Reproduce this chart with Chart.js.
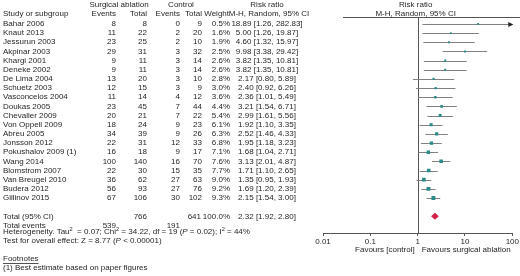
<!DOCTYPE html>
<html>
<head>
<meta charset="utf-8">
<script src="https://cdn.jsdelivr.net/npm/chart.js@4.4.0/dist/chart.umd.min.js"></script>
<style>
  html, body { margin: 0; padding: 0; background: #fff; }
  #wrap { width: 520px; height: 276px; position: relative; }
</style>
</head>
<body>
<div id="wrap"><canvas id="forestChart"></canvas></div>
<script>
const studies = ['Bahar 2006', 'Knaut 2013', 'Jessurun 2003', 'Akpinar 2003', 'Khargi 2001', 'Deneke 2002',
  'De Lima 2004', 'Schuetz 2003', 'Vasconcelos 2004', 'Doukas 2005', 'Chevalier 2009', 'Von Oppell 2009',
  'Abreu 2005', 'Jonsson 2012', 'Pokushalov 2009 (1)', 'Wang 2014', 'Blomstrom 2007', 'Van Breugel 2010',
  'Budera 2012', 'Gillinov 2015'];
const expEvents = [8, 11, 23, 29, 9, 9, 13, 12, 11, 23, 20, 18, 34, 22, 16, 100, 22, 36, 56, 67];
const expTotal = [8, 22, 25, 31, 11, 11, 20, 15, 14, 45, 21, 24, 39, 31, 18, 140, 30, 62, 93, 106];
const ctrlEvents = [0, 2, 2, 3, 3, 3, 3, 3, 4, 7, 7, 9, 9, 12, 9, 16, 15, 27, 27, 30];
const ctrlTotal = [9, 20, 10, 32, 14, 14, 10, 9, 12, 44, 22, 23, 26, 33, 17, 70, 35, 63, 76, 102];
const weights = [0.5, 1.6, 1.9, 2.5, 2.6, 2.6, 2.8, 3.0, 3.6, 4.4, 5.4, 6.1, 6.3, 6.8, 7.1, 7.6, 7.7, 9.0, 9.2, 9.3];
const riskRatio = [18.89, 5.00, 4.60, 9.98, 3.82, 3.82, 2.17, 2.40, 2.36, 3.21, 2.99, 1.92, 2.52, 1.95, 1.68, 3.13, 1.71, 1.35, 1.69, 2.15];
const ciLow = [1.26, 1.26, 1.32, 3.38, 1.35, 1.35, 0.80, 0.92, 1.01, 1.54, 1.61, 1.10, 1.46, 1.18, 1.04, 2.01, 1.10, 0.95, 1.20, 1.54];
const ciHigh = [282.83, 19.87, 15.97, 29.42, 10.81, 10.81, 5.89, 6.26, 5.49, 6.71, 5.56, 3.35, 4.33, 3.23, 2.71, 4.87, 2.65, 1.93, 2.39, 3.00];

const totalExp = 766, totalCtrl = 641, totalWeight = '100.0%';
const totalEventsExp = 539, totalEventsCtrl = 191;
const totalRR = 2.32, totalLow = 1.92, totalHigh = 2.80;

const tickValues = [0.01, 0.1, 1, 10, 100];
const tickLabels = ['0.01', '0.1', '1', '10', '100'];

const FONT = '"Liberation Sans", Arial, sans-serif';
const FS = 8;
const TXT = '#262626';

// column anchors
const COL = { study: 3, expEv: 116, expTot: 147, ctlEv: 180, ctlTot: 202, weight: 230, rr: 267 };

function fmt2(v) { return v.toFixed(2); }

function drawRich(ctx, parts, x, y) {
  // parts: [text, style] ; style: n normal, i italic, s superscript
  let cx = x;
  parts.forEach(([t, st]) => {
    if (st === 's') {
      ctx.font = (FS * 0.7) + 'px ' + FONT;
      ctx.fillText(t, cx, y - 3);
    } else {
      ctx.font = (st === 'i' ? 'italic ' : '') + FS + 'px ' + FONT;
      ctx.fillText(t, cx, y);
    }
    cx += ctx.measureText(t).width;
  });
}

const forestPlugin = {
  id: 'forest',
  beforeDatasetsDraw(chart) {
    const ctx = chart.ctx;
    const xs = chart.scales.x, ys = chart.scales.y;
    const area = chart.chartArea;
    ctx.save();
    // no-effect line
    ctx.strokeStyle = '#555';
    ctx.lineWidth = 1;
    const x1 = Math.round(xs.getPixelForValue(1)) + 0.5;
    ctx.beginPath();
    ctx.moveTo(x1, area.top);
    ctx.lineTo(x1, area.bottom);
    ctx.stroke();
    // header rule
    ctx.beginPath();
    ctx.moveTo(343, area.top + 0.5);
    ctx.lineTo(520, area.top + 0.5);
    ctx.stroke();
    // confidence intervals
    ctx.strokeStyle = '#808080';
    studies.forEach((s, i) => {
      const y = Math.round(ys.getPixelForValue(i)) + 0.5;
      const xl = xs.getPixelForValue(Math.max(ciLow[i], xs.min));
      const clipped = ciHigh[i] > xs.max;
      const xr = xs.getPixelForValue(Math.min(ciHigh[i], xs.max));
      ctx.beginPath();
      ctx.moveTo(xl, y);
      ctx.lineTo(xr, y);
      ctx.stroke();
      if (clipped) {
        ctx.fillStyle = '#222';
        ctx.beginPath();
        ctx.moveTo(xr + 1, y);
        ctx.lineTo(xr - 4, y - 2.5);
        ctx.lineTo(xr - 4, y + 2.5);
        ctx.closePath();
        ctx.fill();
      }
    });
    ctx.restore();
  },
  afterDraw(chart) {
    const ctx = chart.ctx;
    const xs = chart.scales.x, ys = chart.scales.y;
    ctx.save();
    // pooled diamond
    const yt = ys.getPixelForValue(21);
    ctx.fillStyle = '#d3204a';
    ctx.beginPath();
    ctx.moveTo(xs.getPixelForValue(totalLow), yt);
    ctx.lineTo(xs.getPixelForValue(totalRR), yt - 3.5);
    ctx.lineTo(xs.getPixelForValue(totalHigh), yt);
    ctx.lineTo(xs.getPixelForValue(totalRR), yt + 3.5);
    ctx.closePath();
    ctx.fill();

    ctx.fillStyle = TXT;
    ctx.textBaseline = 'middle';
    ctx.font = FS + 'px ' + FONT;
    const put = (t, x, y, align) => { ctx.textAlign = align; ctx.fillText(String(t), x, y); };

    // headers
    put('Surgical ablation', 119, 5, 'center');
    put('Control', 181, 5, 'center');
    put('Risk ratio', COL.rr, 5, 'center');
    put('Study or subgroup', COL.study, 14, 'left');
    put('Events', COL.expEv, 14, 'right');
    put('Total', COL.expTot, 14, 'right');
    put('Events', COL.ctlEv, 14, 'right');
    put('Total', COL.ctlTot, 14, 'right');
    put('Weight', COL.weight - 1, 14, 'right');
    put('M-H, Random, 95% CI', COL.rr + 2, 14, 'center');
    const xc = xs.getPixelForValue(1);
    put('Risk ratio', xc - 2, 5, 'center');
    put('M-H, Random, 95% CI', xc - 2, 14, 'center');

    // rows
    studies.forEach((s, i) => {
      const y = ys.getPixelForValue(i);
      put(s, COL.study, y, 'left');
      put(expEvents[i], COL.expEv, y, 'right');
      put(expTotal[i], COL.expTot, y, 'right');
      put(ctrlEvents[i], COL.ctlEv, y, 'right');
      put(ctrlTotal[i], COL.ctlTot, y, 'right');
      put(weights[i].toFixed(1) + '%', COL.weight, y, 'right');
      put(fmt2(riskRatio[i]) + ' [' + fmt2(ciLow[i]) + ', ' + fmt2(ciHigh[i]) + ']', COL.rr, y, 'center');
    });

    // totals
    put('Total (95% CI)', COL.study, yt, 'left');
    put(totalExp, COL.expTot, yt, 'right');
    put(totalCtrl, COL.ctlTot - 1, yt, 'right');
    put(totalWeight, COL.weight, yt, 'right');
    put(fmt2(totalRR) + ' [' + fmt2(totalLow) + ', ' + fmt2(totalHigh) + ']', COL.rr, yt, 'center');
    const ye = ys.getPixelForValue(22);
    put('Total events', COL.study, ye, 'left');
    put(totalEventsExp, COL.expEv, ye, 'right');
    put(totalEventsCtrl, COL.ctlEv, ye, 'right');

    ctx.textAlign = 'left';
    drawRich(ctx, [['Heterogeneity. Tau', 'n'], ['2', 's'], ['  = 0.07; Chi', 'n'], ['2', 's'],
      [' = 34.22, df = 19 (', 'n'], ['P', 'i'], [' = 0.02); I', 'n'], ['2', 's'], [' = 44%', 'n']], 3, 232);
    drawRich(ctx, [['Test for overall effect: Z = 8.77 (', 'n'], ['P', 'i'], [' < 0.00001)', 'n']], 3, 241);

    ctx.font = FS + 'px ' + FONT;
    put('Footnotes', 3, 259, 'left');
    const fw = ctx.measureText('Footnotes').width;
    ctx.strokeStyle = TXT;
    ctx.lineWidth = 0.8;
    ctx.beginPath();
    ctx.moveTo(3, 263.5);
    ctx.lineTo(3 + fw, 263.5);
    ctx.stroke();
    put('(1) Best estimate based on paper figures', 3, 268, 'left');

    // favours labels
    put('Favours [control]', xc - 3, 250, 'right');
    put('Favours surgical ablation', xc + 4, 250, 'left');
    ctx.restore();
  }
};

function initializeChart() {
  const ctx = document.getElementById('forestChart').getContext('2d');
  const radius = weights.map(w => Math.max(1.3, 0.9 * Math.sqrt(w)));
  new Chart(ctx, {
    type: 'scatter',
    data: {
      datasets: [{
        label: 'Risk ratio',
        data: studies.map((s, i) => ({ x: riskRatio[i], y: i })),
        pointStyle: 'rect',
        pointRadius: radius,
        pointHoverRadius: radius,
        backgroundColor: '#2a8c8a',
        borderWidth: 0
      }]
    },
    options: {
      responsive: true,
      maintainAspectRatio: false,
      animation: false,
      layout: { padding: { left: 323, right: 7, top: 17, bottom: 0 } },
      plugins: { legend: { display: false }, tooltip: { enabled: false } },
      scales: {
        x: {
          type: 'logarithmic',
          min: 0.01,
          max: 100,
          afterBuildTicks: (scale) => { scale.ticks = tickValues.map(v => ({ value: v })); },
          afterFit: (scale) => { scale.height = 43; },
          ticks: {
            autoSkip: false,
            maxRotation: 0,
            padding: 1,
            color: TXT,
            font: { family: FONT, size: FS },
            callback: (v) => tickLabels[tickValues.indexOf(v)]
          },
          grid: { drawOnChartArea: false, drawTicks: true, tickLength: 3, color: '#555' },
          border: { display: true, color: '#555' }
        },
        y: {
          type: 'linear',
          display: false,
          reverse: true,
          min: -0.76,
          max: 22.82
        }
      }
    },
    plugins: [forestPlugin]
  });
}

if (document.readyState === 'loading') {
  document.addEventListener('DOMContentLoaded', initializeChart);
} else {
  initializeChart();
}
</script>
</body>
</html>
